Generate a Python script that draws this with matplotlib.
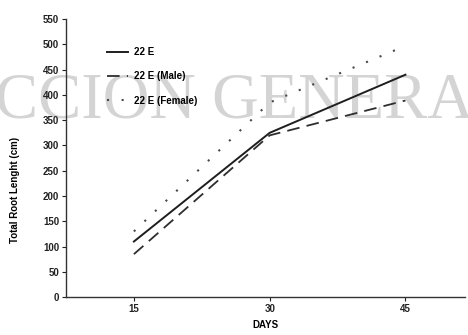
import matplotlib
matplotlib.use("Agg")
import matplotlib.pyplot as plt

# Root length measurements (cm) by day
days = [15, 30, 45]
root_22e = [110, 325, 440]
root_22e_male = [85, 320, 389]
root_22e_female = [130, 385, 497]

series_labels = ["22 E", "22 E (Male)", "22 E (Female)"]
y_ticks = list(range(0, 551, 50))

plt.rcParams["font.family"] = ["Liberation Sans", "DejaVu Sans"]
plt.rcParams["font.weight"] = "bold"

fig = plt.figure(figsize=(4.68, 3.35), dpi=100)
ax = fig.add_axes([0.141, 0.113, 0.853, 0.830])

# Background watermark lettering, kept underneath the data
ax.text(0.5, 0.695, "CCION GENERA", ha="center", va="center",
        transform=fig.transFigure, clip_on=False,
        fontsize=46.5, family=["Liberation Serif", "DejaVu Serif"],
        fontweight="normal", color="#d4d4d4", zorder=0)

ax.plot(days, root_22e, color="#1e1e1e", lw=1.4, ls="-", label=series_labels[0],
        zorder=3)
ax.plot(days, root_22e_male, color="#2e2e2e", lw=1.3, ls=(0, (7, 4)),
        label=series_labels[1], zorder=3)
ax.plot(days, root_22e_female, color="#4a4a4a", lw=1.5, ls=(0, (1, 6)),
        label=series_labels[2], zorder=3)

ax.set_xlim(7.5, 51.6)
ax.set_ylim(0, 550)
ax.set_xticks(days)
ax.set_yticks(y_ticks)
ax.tick_params(axis="both", labelsize=7, length=3, width=0.8, colors="#222222",
               pad=2)
for lbl in ax.get_xticklabels() + ax.get_yticklabels():
    lbl.set_fontweight("bold")

for side in ("top", "right"):
    ax.spines[side].set_visible(False)
for side in ("left", "bottom"):
    ax.spines[side].set_linewidth(1.0)
    ax.spines[side].set_color("#333333")
ax.patch.set_alpha(0)

ax.set_xlabel("DAYS", fontsize=7, fontweight="bold", labelpad=4)
ax.set_ylabel("Total Root Lenght (cm)", fontsize=7, fontweight="bold")
ax.yaxis.set_label_coords(-0.115, 0.385)

leg = ax.legend(loc="upper left", bbox_to_anchor=(0.08, 0.93), frameon=False,
                handlelength=2.2, labelspacing=1.45, handletextpad=0.6,
                prop={"weight": "bold", "size": 7})
leg.set_zorder(4)

fig.savefig("out.png", dpi=100)
